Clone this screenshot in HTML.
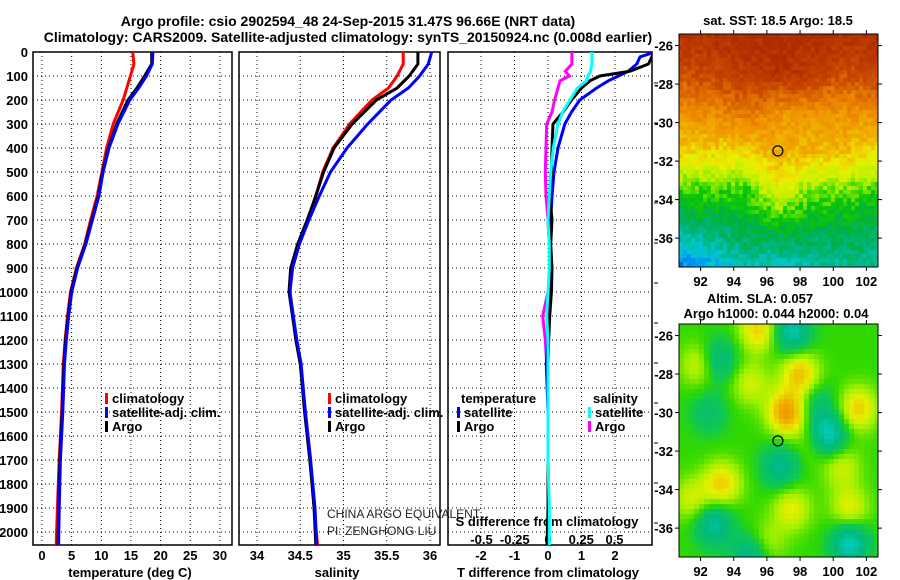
<!DOCTYPE html>
<html><head><meta charset="utf-8"><style>
body{margin:0;background:#fff;}
svg{display:block;font-family:"Liberation Sans",sans-serif;}
.b{font-weight:bold;font-size:13px;}
.grid{stroke:#000;stroke-width:1;stroke-dasharray:1 3;}
</style></head><body>
<svg id="chart" width="900" height="580" viewBox="0 0 900 580">
<text class="b" x="348" y="26" text-anchor="middle" style="font-size:14px">Argo profile: csio 2902594_48 24-Sep-2015 31.47S 96.66E (NRT data)</text>
<text class="b" x="348" y="42" text-anchor="middle" style="font-size:14px">Climatology: CARS2009. Satellite-adjusted climatology: synTS_20150924.nc (0.008d earlier)</text>
<g id="panels"></g>
<g id="maps"></g>
<text class="b" x="898" y="0" transform="translate(893,460) rotate(-90)" text-anchor="middle" style="font-weight:normal;font-size:12px">©IMOS 14-Dec-2018 10:51:04</text>
</svg>
<script>
// ---- profile data ----
const depths = [0,50,100,150,200,300,400,500,600,700,800,900,1000,1100,1200,1300,1500,1700,1900,2055];
const tempClim = [15.3,15.5,14.9,14.3,13.7,12.0,10.9,10.1,9.3,8.2,7.2,5.8,4.8,4.3,3.9,3.6,3.3,2.9,2.6,2.4];
const tempArgo = [18.5,18.5,17.3,16.0,14.5,12.6,11.2,10.2,9.5,8.4,7.3,5.9,4.9,4.4,4.0,3.7,3.4,3.0,2.8,2.7];
const tempSat  = [18.7,18.6,17.6,16.3,14.8,12.8,11.3,10.3,9.6,8.5,7.4,6.0,5.0,4.5,4.1,3.8,3.5,3.1,2.9,2.8];
const salClim = [35.69,35.69,35.62,35.52,35.33,35.07,34.88,34.76,34.68,34.59,34.49,34.41,34.38,34.42,34.45,34.50,34.56,34.62,34.66,34.70];
const salArgo = [35.86,35.86,35.76,35.62,35.38,35.10,34.89,34.77,34.68,34.58,34.47,34.39,34.37,34.41,34.45,34.50,34.55,34.61,34.66,34.68];
const salSat  = [36.02,35.98,35.88,35.75,35.55,35.28,35.04,34.85,34.72,34.60,34.49,34.41,34.38,34.42,34.46,34.51,34.56,34.62,34.67,34.69];
const diffDepths = [0,20,50,80,100,120,150,200,250,300,400,500,600,700,800,900,1000,1100,1200,1300,1500,1700,1900,2055];
const dTArgo = [3.2,3.1,3.0,2.45,1.55,1.25,1.0,0.7,0.45,0.15,0.12,0.1,0.05,0.12,0.08,0.12,0.1,0.05,0.02,0.0,0.0,0.0,0.0,-0.03];
const dTSat  = [3.2,2.75,2.65,2.4,2.1,1.8,1.45,0.95,0.7,0.5,0.3,0.18,0.12,0.08,0.06,0.05,0.04,0.02,0.0,-0.05,0.0,0.0,0.02,0.02];
const dSArgo = [0.18,0.18,0.18,0.13,0.16,0.09,0.075,0.05,0.03,-0.01,-0.015,-0.02,-0.015,0.0,0.01,0.02,0.0,-0.04,-0.02,-0.01,0.0,0.0,0.0,0.0];
const dSSat  = [0.33,0.33,0.33,0.32,0.30,0.29,0.22,0.165,0.11,0.075,0.04,0.02,0.01,0.0,0.01,0.01,0.0,-0.01,0.0,0.0,0.0,0.0,0.01,0.01];
const depthTicks = [0,100,200,300,400,500,600,700,800,900,1000,1100,1200,1300,1400,1500,1600,1700,1800,1900,2000];
const tempTicks = [0,5,10,15,20,25,30];
const salTicks = [34,34.5,35,35.5,36];
const salTickLabels = ["34","34.5","35","35.5","36"];
const dTTicks = [-2,-1,0,1,2];
const dSTicks = [-0.5,-0.25,0,0.25,0.5];
const dSTickLabels = ["-0.5","-0.25","0","0.25","0.5"];
// ---- map data ----
const sstLons = [90.7,92.7,94.7,96.7,98.7,100.7,102.7];
const sstLats = [-25.5,-27.5,-29.5,-31.5,-33.5,-35.5,-37.5];
const sstRow0 = [0.03,0.03,0.02,0.02,0.02,0.03,0.03];
const sstRow1 = [0.15,0.12,0.08,0.04,0.08,0.15,0.1];
const sstRow2 = [0.28,0.28,0.22,0.3,0.3,0.3,0.28];
const sstRow3 = [0.42,0.42,0.42,0.36,0.38,0.38,0.45];
const sstRow4 = [0.64,0.62,0.64,0.48,0.6,0.6,0.64];
const sstRow5 = [0.8,0.76,0.72,0.7,0.72,0.72,0.76];
const sstRow6 = [0.97,0.93,0.84,0.86,0.84,0.82,0.8];
const slaBlobLon = [95.5,92,95,98,97.2,101.5,99,93.3,91.5,97.5,101,100.5,96,93,97.5,99.6,96.8,92.8,101,95,99,92.5];
const slaBlobLat = [-25.7,-27.5,-28.5,-28,-30,-29.8,-31.5,-33.7,-34.5,-35,-35,-32.8,-36.8,-27.3,-25.8,-31.2,-32.8,-35.8,-36.8,-37.5,-29.5,-30];
const slaBlobAmp = [0.8,0.6,0.5,0.9,1.2,0.8,0.5,0.8,0.5,0.6,0.6,0.5,0.4,-0.7,-0.9,-1.3,-0.7,-0.8,-1.0,-0.8,-0.4,-0.4];
const mapLonTicks = [92,94,96,98,100,102];
const mapLatTicks = [-26,-28,-30,-32,-34,-36];
const argoLon = 96.66, argoLat = -31.47;

const NS = "http://www.w3.org/2000/svg";
function mk(tag, attrs, parent){const e=document.createElementNS(NS,tag);for(const k in attrs)e.setAttribute(k,attrs[k]);(parent||document.getElementById('chart')).appendChild(e);return e;}
const Y0=52, YS=0.24, YB=545;
const yD = d => Y0 + d*YS;
const panels = document.getElementById('panels');

function panel(name, x0, x1, xf, gridVals){
  const g = mk('g',{},panels);
  
  
  const cp = mk('clipPath',{id:'clip-'+name},g);
  mk('rect',{x:x0,y:Y0,width:x1-x0,height:YB-Y0},cp);
  gridVals.forEach(v=>{const l=mk('line',{x1:xf(v),x2:xf(v),y1:Y0,y2:YB,class:'grid'},g);
    
    });
  depthTicks.forEach(d=>{const l=mk('line',{x1:x0,x2:x1,y1:yD(d),y2:yD(d),class:'grid'},g);
    
    });
  const r=mk('rect',{x:x0,y:Y0,width:x1-x0,height:YB-Y0,fill:'none',stroke:'#000','stroke-width':1.5},g);
  
  
  return g;
}
function series(g, name, xs, ds, xf, color, clip){
  const pts = xs.map((v,i)=>xf(v).toFixed(1)+','+yD(ds[i]).toFixed(1)).join(' ');
  const p = mk('polyline',{points:pts,fill:'none',stroke:color,'stroke-width':3,'clip-path':'url(#clip-'+clip+')'},g);
  
  
}
function txt(g, name, x, y, s, anchor, cls, extra){
  const t = mk('text',Object.assign({x:x,y:y,'text-anchor':anchor||'start',class:cls||'b'},extra||{}),g);
  t.textContent = s;
  
  
  return t;
}
function legend(g, x, y, color, label, name){
  const r = mk('rect',{x:x,y:y-10,width:3,height:11,fill:color},g);
  
  
  txt(g, name, x+7, y, label);
}

// Panel 1 temperature
const xT = t => 42 + t*5.93;
const p1 = panel('temperature-panel',33,232,xT,tempTicks);
depthTicks.forEach(d=>txt(p1,'depth-tick-label',28,yD(d)+5,String(d),'end'));
tempTicks.forEach(t=>txt(p1,'temperature-tick-label',xT(t),560,String(t),'middle'));
txt(p1,'x-axis-title-temperature',130,577,'temperature (deg C)','middle');
series(p1,'temp-climatology-line',tempClim,depths,xT,'#f00','temperature-panel');
series(p1,'temp-argo-line',tempArgo,depths,xT,'#000','temperature-panel');
series(p1,'temp-satellite-line',tempSat,depths,xT,'#00f','temperature-panel');
legend(p1,105,403,'#f00','climatology','legend-climatology');
legend(p1,105,417,'#00f','satellite-adj. clim.','legend-satellite');
legend(p1,105,431,'#000','Argo','legend-argo');

// Panel 2 salinity
const xS = s => 257 + (s-34)*86.5;
const p2 = panel('salinity-panel',239,440,xS,salTicks);
salTicks.forEach((s,i)=>txt(p2,'salinity-tick-label',xS(s),560,salTickLabels[i],'middle'));
txt(p2,'x-axis-title-salinity',337,577,'salinity','middle');
series(p2,'sal-climatology-line',salClim,depths,xS,'#f00','salinity-panel');
series(p2,'sal-argo-line',salArgo,depths,xS,'#000','salinity-panel');
series(p2,'sal-satellite-line',salSat,depths,xS,'#00f','salinity-panel');
legend(p2,328,403,'#f00','climatology','legend-climatology');
legend(p2,328,417,'#00f','satellite-adj. clim.','legend-satellite');
legend(p2,328,431,'#000','Argo','legend-argo');
txt(p2,'float-agency-label',327,518,'CHINA ARGO EQUIVALENT','start','',{style:'font-size:12px;fill:#222;font-weight:normal'});
txt(p2,'float-pi-label',327,535,'PI: ZENGHONG LIU','start','',{style:'font-size:12px;fill:#222;font-weight:normal'});

// Panel 3 differences
const xdT = v => 548 + v*33.5;
const xdS = v => 548 + v*133;
const p3 = panel('difference-panel',448,652,xdT,dTTicks);
dTTicks.forEach(v=>txt(p3,'t-diff-tick-label',xdT(v),560,String(v),'middle'));
txt(p3,'x-axis-title-t-diff',548,577,'T difference from climatology','middle');
dSTicks.forEach((v,i)=>txt(p3,'s-diff-tick-label',xdS(v),544,dSTickLabels[i],'middle'));
txt(p3,'x-axis-title-s-diff',547,526,'S difference from climatology','middle');
[83,123,163,203,243,283,323,363,403,443,483,523].forEach(y=>{const l=mk('line',{x1:654,x2:658,y1:y,y2:y,stroke:'#000'},p3);
  
  });
series(p3,'s-diff-argo-line',dSArgo,diffDepths,xdS,'#f0f','difference-panel');
series(p3,'t-diff-satellite-line',dTSat,diffDepths,xdT,'#00f','difference-panel');
series(p3,'t-diff-argo-line',dTArgo,diffDepths,xdT,'#000','difference-panel');
series(p3,'s-diff-satellite-line',dSSat,diffDepths,xdS,'#0ff','difference-panel');
txt(p3,'legend-temperature-heading',461,403,'temperature');
legend(p3,457,417,'#00f','satellite','legend-t-satellite');
legend(p3,457,431,'#000','Argo','legend-t-argo');
txt(p3,'legend-salinity-heading',593,403,'salinity');
legend(p3,588,417,'#0ff','satellite','legend-s-satellite');
legend(p3,588,431,'#f0f','Argo','legend-s-argo');

// ---- maps ----
const MX0=679, MX1=878, LON0=90.7, LON1=102.7, LAT0=-25.4, LAT1=-37.5;
const mx = lon => MX0 + (lon-LON0)/(LON1-LON0)*(MX1-MX0);
function hex(c){return [parseInt(c.slice(1,3),16),parseInt(c.slice(3,5),16),parseInt(c.slice(5,7),16)];}
function cmap(stops, cols, v){
  if(v<=stops[0])return cols[0]; if(v>=stops[stops.length-1])return cols[cols.length-1];
  let i=0; while(v>stops[i+1])i++;
  const f=(v-stops[i])/(stops[i+1]-stops[i]); const a=hex(cols[i]),b=hex(cols[i+1]);
  return 'rgb('+a.map((x,k)=>Math.round(x+(b[k]-x)*f)).join(',')+')';
}
function hash(i,j){let h=(i*374761393+j*668265263)>>>0;h=((h^(h>>>13))*1274126177)>>>0;return (h&1023)/1023-0.5;}
const sstStops=[0,0.12,0.2,0.28,0.36,0.42,0.46,0.54,0.6,0.64,0.72,0.8,0.87,0.93,1];
const sstCols=['#b02a00','#c84800','#e07000','#f09000','#f0b000','#f0d800','#e8f000','#c0f000','#60e000','#10c800','#00b040','#00b890','#00c8d0','#00a0f0','#0050d8'];
const sstRows=[sstRow0,sstRow1,sstRow2,sstRow3,sstRow4,sstRow5,sstRow6];
function sstVal(lon,lat){
  let fx=(lon-sstLons[0])/(sstLons[1]-sstLons[0]), fy=(lat-sstLats[0])/(sstLats[1]-sstLats[0]);
  fx=Math.max(0,Math.min(5.999,fx)); fy=Math.max(0,Math.min(5.999,fy));
  const i=Math.floor(fy),j=Math.floor(fx),u=fx-j,v=fy-i;
  return sstRows[i][j]*(1-u)*(1-v)+sstRows[i][j+1]*u*(1-v)+sstRows[i+1][j]*(1-u)*v+sstRows[i+1][j+1]*u*v;
}
const slaStops=[-1.2,-0.6,-0.2,0,0.3,0.6,1.0,1.3];
const slaCols=['#00d8d8','#00b880','#10c850','#30d800','#a0f000','#e8f000','#f0b000','#f09000'];
function slaVal(lon,lat){let s=0;for(let k=0;k<slaBlobLon.length;k++){const dx=lon-slaBlobLon[k],dy=lat-slaBlobLat[k];s+=slaBlobAmp[k]*Math.exp(-(dx*dx+dy*dy)/(2*0.8*0.8));}return s;}

const maps=document.getElementById('maps');
function drawMap(name, Y0m, Y1m, valFn, stops, cols, cell, noise, titleLines){
  const g=mk('g',{},maps);
  
  
  const my = lat => Y0m + (lat-LAT0)/(LAT1-LAT0)*(Y1m-Y0m);
  for(let y=Y0m,i=0;y<Y1m;y+=cell,i++){
    for(let x=MX0,j=0;x<MX1;x+=cell,j++){
      const lon=LON0+(x+cell/2-MX0)/(MX1-MX0)*(LON1-LON0);
      const lat=LAT0+(y+cell/2-Y0m)/(Y1m-Y0m)*(LAT1-LAT0);
      const v=valFn(lon,lat)+noise*hash(i,j);
      const c=mk('rect',{x:x,y:y,width:Math.min(cell,MX1-x)+0.3,height:Math.min(cell,Y1m-y)+0.3,fill:cmap(stops,cols,v)},g);
      
      
    }
  }
  const f=mk('rect',{x:MX0,y:Y0m,width:MX1-MX0,height:Y1m-Y0m,fill:'none',stroke:'#000','stroke-width':1},g);
  
  
  mapLonTicks.forEach(l=>{mk('line',{x1:mx(l),x2:mx(l),y1:Y0m,y2:Y0m-4,stroke:'#000'},g);mk('line',{x1:mx(l),x2:mx(l),y1:Y1m,y2:Y1m+4,stroke:'#000'},g);
    txt(g,'map-lon-tick-label',mx(l),Y1m+19,String(l),'middle');});
  mapLatTicks.forEach(l=>{mk('line',{x1:MX0,x2:MX0-4,y1:my(l),y2:my(l),stroke:'#000'},g);mk('line',{x1:MX1,x2:MX1+4,y1:my(l),y2:my(l),stroke:'#000'},g);
    txt(g,'map-lat-tick-label',MX0-6,my(l)+5,String(l),'end');});
  const m=mk('circle',{cx:mx(argoLon),cy:my(argoLat),r:5,fill:'none',stroke:'#000','stroke-width':1.2},g);
  
  
  titleLines.forEach((t,k)=>txt(g,'map-title',t[1],t[2],t[0],'middle'));
}
drawMap('sst-map',34,267,sstVal,sstStops,sstCols,4,0.09,[['sat. SST: 18.5 Argo: 18.5',778,25]]);
drawMap('sla-map',324,557,slaVal,slaStops,slaCols,5,0,[['Altim. SLA: 0.057',760,303],['Argo h1000: 0.044 h2000: 0.04',776,318]]);
</script>
</body></html>
